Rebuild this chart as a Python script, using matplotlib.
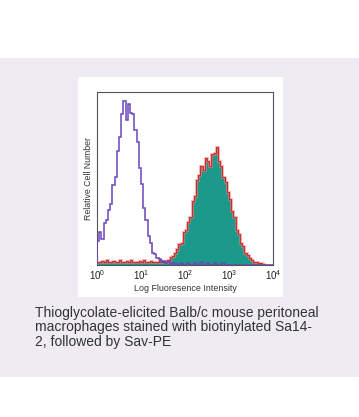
import numpy as np
import matplotlib.pyplot as plt
from matplotlib.patches import Rectangle

plt.rcParams['font.family'] = ['Liberation Sans', 'DejaVu Sans']
plt.rcParams['mathtext.fontset'] = 'custom'
plt.rcParams['mathtext.rm'] = 'Liberation Sans'

# histogram channels: 80 bins over 4 decades (log10 scale)
n_bins = 80

# isotype control (purple outline)
control = [0.14, 0.19, 0.15, 0.24, 0.26, 0.32, 0.35, 0.46, 0.51, 0.66,
           0.74, 0.87, 0.95, 0.84, 0.93, 0.88, 0.87, 0.78, 0.71, 0.56,
           0.47, 0.33, 0.26, 0.17, 0.13, 0.07, 0.065, 0.04, 0.035, 0.02,
           0.025, 0.01, 0.015, 0.0, 0.01, 0.0, 0.005, 0.0, 0.01, 0.0,
           0.0, 0.012, 0.0, 0.0, 0.01, 0.0, 0.0, 0.015, 0.0, 0.0,
           0.01, 0.0, 0.0, 0.012, 0.0, 0.0, 0.0, 0.01, 0.0, 0.0,
           0.0, 0.0, 0.0, 0.0, 0.0, 0.0, 0.0, 0.0, 0.0, 0.0,
           0.0, 0.0, 0.0, 0.0, 0.0, 0.0, 0.0, 0.0, 0.0, 0.0]

# Sa14-2 stained (teal fill, red outline)
stained = [0.02, 0.015, 0.025, 0.02, 0.03, 0.015, 0.02, 0.025, 0.015, 0.02,
           0.03, 0.02, 0.015, 0.025, 0.02, 0.03, 0.02, 0.015, 0.02, 0.025,
           0.02, 0.03, 0.015, 0.02, 0.025, 0.02, 0.015, 0.02, 0.03, 0.02,
           0.025, 0.02, 0.03, 0.045, 0.05, 0.07, 0.09, 0.12, 0.13, 0.19,
           0.20, 0.25, 0.28, 0.37, 0.40, 0.49, 0.52, 0.57, 0.55, 0.62,
           0.60, 0.57, 0.64, 0.65, 0.68, 0.60, 0.57, 0.51, 0.48, 0.42,
           0.38, 0.31, 0.28, 0.20, 0.18, 0.13, 0.11, 0.07, 0.055, 0.04,
           0.03, 0.02, 0.015, 0.01, 0.012, 0.005, 0.0, 0.0, 0.0, 0.0]

tick_vals = [1, 10, 100, 1000, 10000]
tick_labels = ['$10^0$', '$10^1$', '$10^2$', '$10^3$', '$10^4$']

caption = ['Thioglycolate-elicited Balb/c mouse peritoneal',
           'macrophages stained with biotinylated Sa14-',
           '2, followed by Sav-PE']

edges = np.logspace(0, 4, n_bins + 1)

W, H = 359, 417
fig = plt.figure(figsize=(W / 100, H / 100), dpi=100)
fig.patch.set_facecolor('white')

# lavender band and white panel behind the plot
band = Rectangle((0, 1 - 377 / H), 1, (377 - 58) / H, transform=fig.transFigure,
                 facecolor='#eeebf3', edgecolor='none', zorder=-6)
fig.add_artist(band)
panel = Rectangle((78 / W, 1 - 297 / H), 205 / W, 220 / H, transform=fig.transFigure,
                  facecolor='white', edgecolor='none', zorder=-5)
fig.add_artist(panel)

ax = fig.add_axes([97 / W, 1 - 265 / H, 176 / W, 173 / H])
ax.set_zorder(1)
ax.stairs(stained, edges, fill=True, color='#1b998b', zorder=2)
ax.stairs(stained, edges, color='#f08080', lw=2.0, alpha=0.6, zorder=3)
ax.stairs(stained, edges, color='#d42a2a', lw=0.8, zorder=4)
ax.stairs(control, edges, color='#6a45bd', lw=1.1, zorder=5)

ax.set_xscale('log')
ax.set_xlim(1, 10000)
ax.set_ylim(0, 1.0)
ax.set_xticks(tick_vals)
ax.set_xticklabels(tick_labels)
ax.minorticks_off()
ax.set_yticks([])
ax.tick_params(axis='x', length=0, pad=2.5, labelsize=7, labelcolor='#222222')
for s in ax.spines.values():
    s.set_color('#555555')
    s.set_linewidth(0.8)

ax.set_xlabel('Log Fluoresence Intensity', fontsize=6.4, color='#333333', labelpad=1.5)
ax.set_ylabel('Relative Cell Number', fontsize=6.3, color='#333333', labelpad=3)

for i, line in enumerate(caption):
    fig.text(35 / W, 1 - (313 + 14.5 * i) / H, line, fontsize=10, color='#333333',
             va='center', ha='left')

plt.savefig('out.png', dpi=100, facecolor=fig.get_facecolor())
